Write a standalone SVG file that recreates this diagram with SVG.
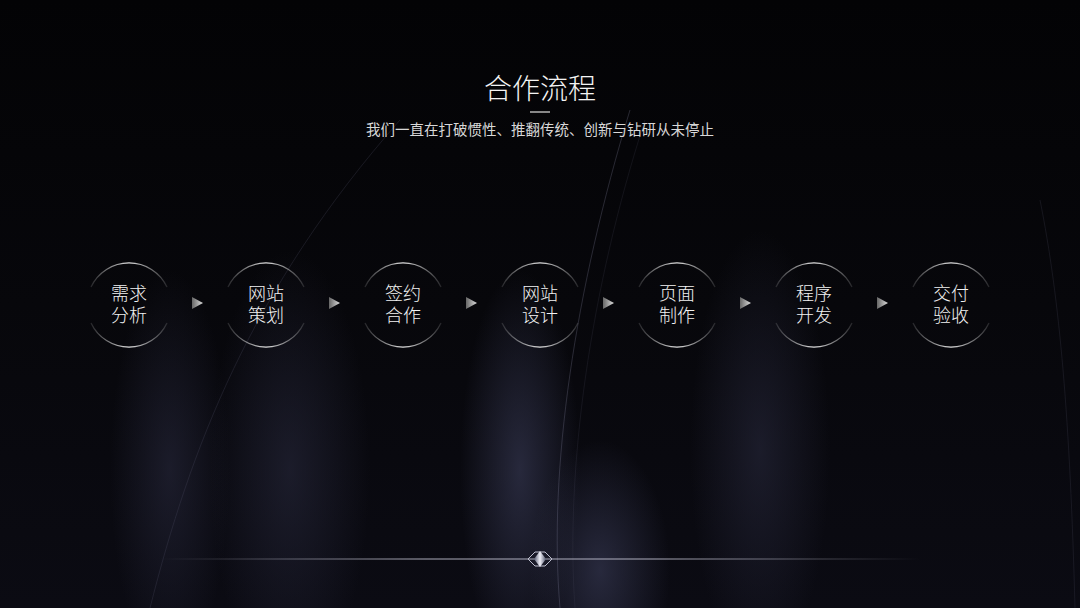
<svg xmlns="http://www.w3.org/2000/svg" width="1080" height="608" viewBox="0 0 1080 608">
<defs>
<radialGradient id="glow1" cx="0.5" cy="0.5" r="0.5">
<stop offset="0" stop-color="#34364f" stop-opacity="0.7"/>
<stop offset="1" stop-color="#34364f" stop-opacity="0"/>
</radialGradient>
<radialGradient id="glow2" cx="0.5" cy="0.5" r="0.5">
<stop offset="0" stop-color="#2a2b40" stop-opacity="0.55"/>
<stop offset="1" stop-color="#2a2b40" stop-opacity="0"/>
</radialGradient>
<linearGradient id="bg" x1="0" y1="0" x2="0" y2="1">
<stop offset="0" stop-color="#030305"/>
<stop offset="0.5" stop-color="#07070b"/>
<stop offset="1" stop-color="#0b0b13"/>
</linearGradient>
<linearGradient id="line" gradientUnits="userSpaceOnUse" x1="160" y1="0" x2="920" y2="0">
<stop offset="0" stop-color="#c8c8d8" stop-opacity="0"/>
<stop offset="0.35" stop-color="#c8c8d8" stop-opacity="0.85"/>
<stop offset="0.65" stop-color="#c8c8d8" stop-opacity="0.85"/>
<stop offset="1" stop-color="#c8c8d8" stop-opacity="0"/>
</linearGradient>
<linearGradient id="ringg" x1="0" y1="0" x2="1" y2="0">
<stop offset="0" stop-color="#d8d8d8" stop-opacity="0.15"/>
<stop offset="0.5" stop-color="#e0e0e0" stop-opacity="1"/>
<stop offset="1" stop-color="#d8d8d8" stop-opacity="0.15"/>
</linearGradient>
<linearGradient id="arrowg" x1="0" y1="0" x2="1" y2="0">
<stop offset="0" stop-color="#666"/>
<stop offset="1" stop-color="#ddd"/>
</linearGradient>
<linearGradient id="diam" x1="0" y1="0" x2="1" y2="0">
<stop offset="0" stop-color="#555a70"/>
<stop offset="0.5" stop-color="#f0f0f8"/>
<stop offset="1" stop-color="#555a70"/>
</linearGradient>
<style>
.ring{fill:none;stroke:url(#ringg);stroke-width:1.3}
.lbl{font-family:"Noto Sans CJK SC","Noto Sans",sans-serif;font-size:18px;font-weight:300;fill:#f2f2f2;text-anchor:middle}
.arr{fill:url(#arrowg)}
</style>
</defs>
<rect width="1080" height="608" fill="url(#bg)"/>
<ellipse cx="290" cy="470" rx="80" ry="220" fill="url(#glow2)"/>
<ellipse cx="520" cy="470" rx="60" ry="200" fill="url(#glow1)"/>
<ellipse cx="600" cy="570" rx="70" ry="130" fill="url(#glow1)"/>
<ellipse cx="170" cy="470" rx="60" ry="200" fill="url(#glow2)"/>
<ellipse cx="760" cy="450" rx="70" ry="220" fill="url(#glow2)"/>
<g fill="none" stroke-width="1">
<path d="M150,608 C190,450 250,290 400,120" stroke="#55556a" stroke-opacity="0.25"/>
<path d="M560,608 C548,470 575,290 630,110" stroke="#7a7a95" stroke-opacity="0.3"/>
<path d="M575,608 C565,470 590,290 645,120" stroke="#4a4a60" stroke-opacity="0.2"/>
<path d="M1040,200 C1060,300 1070,420 1075,608" stroke="#3a3a4c" stroke-opacity="0.3"/>
</g>
<g id="title">
<text x="540" y="99" font-family="'Noto Sans CJK SC','Noto Sans',sans-serif" font-size="28" font-weight="300" fill="#f4f4f4" text-anchor="middle">合作流程</text>
<line x1="530" y1="112" x2="550" y2="112" stroke="#e0e0e0" stroke-width="1.2"/>
<text x="540" y="135" font-family="'Noto Sans CJK SC','Noto Sans',sans-serif" font-size="14.5" fill="#d8d8d8" text-anchor="middle">我们一直在打破惯性、推翻传统、创新与钻研从未停止</text>
</g>
<g id="node1"><path class="ring" d="M91,287 A42,42 0 0 1 167,287 M167,323 A42,42 0 0 1 91,323"/><text class="lbl" x="129" y="300">需求<tspan x="129" dy="22">分析</tspan></text></g>
<g id="node2"><path class="ring" d="M228,287 A42,42 0 0 1 304,287 M304,323 A42,42 0 0 1 228,323"/><text class="lbl" x="266" y="300">网站<tspan x="266" dy="22">策划</tspan></text></g>
<g id="node3"><path class="ring" d="M365,287 A42,42 0 0 1 441,287 M441,323 A42,42 0 0 1 365,323"/><text class="lbl" x="403" y="300">签约<tspan x="403" dy="22">合作</tspan></text></g>
<g id="node4"><path class="ring" d="M502,287 A42,42 0 0 1 578,287 M578,323 A42,42 0 0 1 502,323"/><text class="lbl" x="540" y="300">网站<tspan x="540" dy="22">设计</tspan></text></g>
<g id="node5"><path class="ring" d="M639,287 A42,42 0 0 1 715,287 M715,323 A42,42 0 0 1 639,323"/><text class="lbl" x="677" y="300">页面<tspan x="677" dy="22">制作</tspan></text></g>
<g id="node6"><path class="ring" d="M776,287 A42,42 0 0 1 852,287 M852,323 A42,42 0 0 1 776,323"/><text class="lbl" x="814" y="300">程序<tspan x="814" dy="22">开发</tspan></text></g>
<g id="node7"><path class="ring" d="M913,287 A42,42 0 0 1 989,287 M989,323 A42,42 0 0 1 913,323"/><text class="lbl" x="951" y="300">交付<tspan x="951" dy="22">验收</tspan></text></g>
<g id="connectors">
<path class="arr" d="M192,297 L203,303 L192,309 z"/>
<path class="arr" d="M329,297 L340,303 L329,309 z"/>
<path class="arr" d="M466,297 L477,303 L466,309 z"/>
<path class="arr" d="M603,297 L614,303 L603,309 z"/>
<path class="arr" d="M740,297 L751,303 L740,309 z"/>
<path class="arr" d="M877,297 L888,303 L877,309 z"/>
</g>
<g id="divider">
<line x1="160" y1="559" x2="920" y2="559" stroke="url(#line)" stroke-width="1"/>
<path d="M528,559 L535,552 L545,552 L552,559 L545,566 L535,566 z" fill="none" stroke="#bfc0d0" stroke-width="1"/>
<path d="M534,559 L540,551 L546,559 L540,567 z" fill="url(#diam)"/>
</g>
</svg>
